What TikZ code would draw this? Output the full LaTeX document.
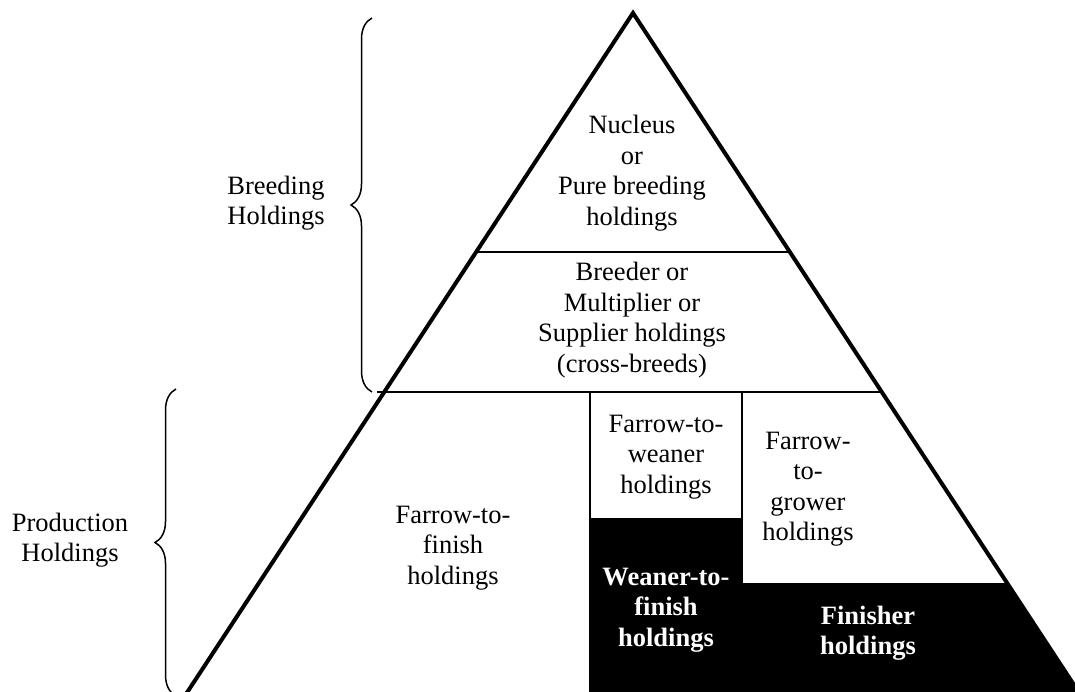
\documentclass[tikz,border=0pt]{standalone}
\usepackage{fontspec}
\setmainfont{Liberation Serif}
\usepackage{tikz}
\usetikzlibrary{
    calc,
    decorations,
    decorations.pathreplacing,
    positioning,
}
\tikzstyle{edge}=[line width=4pt,line join=miter]
\tikzstyle{level}=[line width=1.5pt]
\tikzstyle{split}=[line width=2pt]
\tikzstyle{holding}=[align=center,inner sep=0pt,font=\fontsize{26.5}{30.5}\selectfont]
\tikzstyle{dark}=[holding,text=white,font=\fontsize{26.5}{30.5}\selectfont\bfseries]
\tikzstyle{group}=[draw,line width=1.5pt,decorate,decoration={brace,amplitude=21pt}]
\tikzset{
    x=1pt,y=1pt
}
\begin{document}
\begin{tikzpicture}
    \clip (0,0) rectangle (1075,-691);
    % Corners of the pyramid
    \coordinate (apex) at (633,-13);
    \coordinate (baseL) at (169,-720);
    \coordinate (baseR) at (1097,-720);
    \coordinate (nucL) at (476.2,-252);
    \coordinate (nucR) at (789.8,-252);
    \coordinate (breL) at (377,-392);
    \coordinate (breR) at (881.6,-392);
    \coordinate (finR) at (1006.9,-583);

    % Black part: weaner-to-finish and finisher
    \fill[black] (590,-518) -- (742,-518) -- (742,-583) -- (finR) -- (baseR) -- (590,-720) -- cycle;

    \draw[level] (nucL) -- (nucR);
    \draw[level] (breL) -- (breR);
    \draw[split] (590,-392) -- (590,-720);
    \draw[split] (742,-392) -- (742,-583);
    \draw[edge] (baseL) -- (apex) -- (baseR);

    % Groups
    \draw[group] (breL) ++(-5,0) coordinate (brBot) -- (372,-18) coordinate (brTop);
    \draw[group] (176,-696) coordinate (prBot) -- (176,-389) coordinate (prTop);
    \node[holding] (breeding) at (276,-203) {Breeding\\Holdings};
    \node[holding] (production) at (70,-540) {Production\\Holdings};

    % Holdings
    \node[holding] (nucleus) at (632,-173) {Nucleus\\or\\Pure breeding\\holdings};
    \node[holding] (breeder) at (632,-320) {Breeder or\\Multiplier or\\Supplier holdings\\(cross-breeds)};
    \node[holding] (ftf) at (453,-548) {Farrow-to-\\finish\\holdings};
    \node[holding] (ftw) at (666,-457) {Farrow-to-\\weaner\\holdings};
    \node[holding] (ftg) at (808,-489) {Farrow-\\to-\\grower\\holdings};
    \node[dark] (wtf) at (666,-610) {Weaner-to-\\finish\\holdings};
    \node[dark] (finisher) at (868,-633) {Finisher\\holdings};
\end{tikzpicture}
\end{document}
